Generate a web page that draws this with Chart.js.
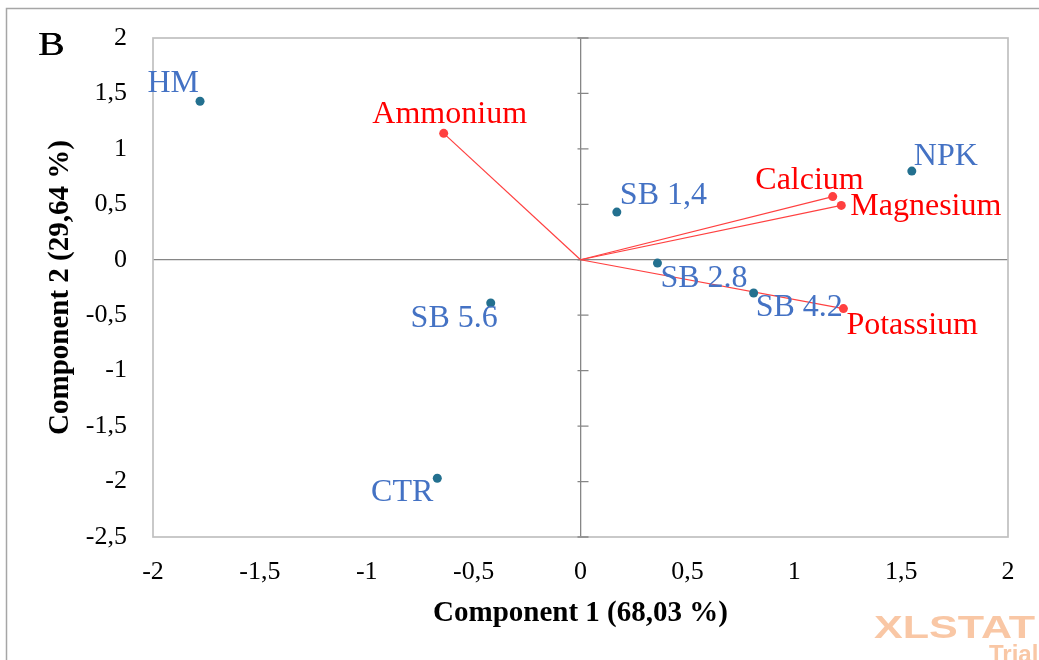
<!DOCTYPE html>
<html>
<head>
<meta charset="utf-8">
<script src="https://cdn.jsdelivr.net/npm/chart.js@4.4.0/dist/chart.umd.min.js"></script>
<style>
	html, body { margin: 0; padding: 0; background: #fff; }
	canvas { display: block; }
</style>
</head>
<body>
<canvas id="biplot" width="1039" height="660"></canvas>
<script>
// observations (component scores)
const obsNames = ['HM', 'NPK', 'SB 1,4', 'SB 2.8', 'SB 4.2', 'SB 5.6', 'CTR'];
const obsX = [-1.78, 1.55, 0.17, 0.36, 0.81, -0.42, -0.67];
const obsY = [1.43, 0.80, 0.43, -0.03, -0.30, -0.39, -1.97];

// variables (loadings)
const varNames = ['Ammonium', 'Calcium', 'Magnesium', 'Potassium'];
const varX = [-0.64, 1.18, 1.22, 1.23];
const varY = [1.14, 0.57, 0.49, -0.44];

// axis ticks
const xTicks = [-2, -1.5, -1, -0.5, 0, 0.5, 1, 1.5, 2];
const yTicks = [-2.5, -2, -1.5, -1, -0.5, 0, 0.5, 1, 1.5, 2];

// label offsets from the point: dx, dy (baseline), align
const obsLabelPos = [[-1, -9, 'right'], [2, -6, 'left'], [3, -8, 'left'], [3, 24, 'left'], [2, 23, 'left'], [7, 24, 'right'], [-4, 23, 'right']];
const varLabelPos = [[6, -10, 'center'], [31, -8, 'right'], [9, 10, 'left'], [3, 25, 'left']];

const SERIF = '"Liberation Serif", "Times New Roman", serif';

class Biplot {
	constructor (){
		const _ = this;
		_.init();
	}

	fmt(v){
		return String(v).replace('.', ',');
	}

	datasets(){
		let sets = [{
			label: 'Observations',
			data: obsX.map((x, i) => ({x: x, y: obsY[i]})),
			pointRadius: 4.5,
			pointBackgroundColor: '#23708f',
			pointBorderWidth: 0,
			showLine: false
		}];
		for (let i = 0; i < varNames.length; i++) {
			sets.push({
				label: varNames[i],
				data: [{x: 0, y: 0}, {x: varX[i], y: varY[i]}],
				showLine: true,
				borderColor: '#ff4040',
				borderWidth: 1.2,
				pointRadius: [0, 4.5],
				pointBackgroundColor: '#ff4040',
				pointBorderWidth: 0
			});
		}
		return sets;
	}

	// frame, zero-axis tick marks, point labels and the corner texts
	decorations(){
		const _ = this;
		return {
			id: 'decorations',
			beforeDraw(chart){
				const ctx = chart.ctx;
				ctx.save();
				ctx.fillStyle = '#fff';
				ctx.fillRect(0, 0, chart.width, chart.height);
				ctx.strokeStyle = '#a6a6a6';
				ctx.lineWidth = 1.5;
				ctx.strokeRect(6.5, 8.5, 1200, 800);
				ctx.restore();
			},
			beforeDatasetsDraw(chart){
				const ctx = chart.ctx;
				const a = chart.chartArea;
				const sx = chart.scales.x, sy = chart.scales.y;
				ctx.save();
				ctx.strokeStyle = '#c0c0c0';
				ctx.lineWidth = 1.7;
				ctx.strokeRect(a.left, a.top, a.right - a.left, a.bottom - a.top);

				let x0 = sx.getPixelForValue(0);
				ctx.strokeStyle = '#868686';
				ctx.lineWidth = 1.3;
				ctx.beginPath();
				yTicks.forEach(v => {
					let py = sy.getPixelForValue(v);
					ctx.moveTo(x0 - 3, py);
					ctx.lineTo(x0 + 8, py);
				});
				ctx.stroke();
				ctx.restore();
			},
			afterDatasetsDraw(chart){
				const ctx = chart.ctx;
				const sx = chart.scales.x, sy = chart.scales.y;
				ctx.save();
				ctx.font = '32px ' + SERIF;
				ctx.textBaseline = 'alphabetic';

				ctx.fillStyle = '#4472c4';
				obsNames.forEach((n, i) => {
					let p = obsLabelPos[i];
					ctx.textAlign = p[2];
					ctx.fillText(n, sx.getPixelForValue(obsX[i]) + p[0], sy.getPixelForValue(obsY[i]) + p[1]);
				});

				ctx.fillStyle = '#ff0000';
				varNames.forEach((n, i) => {
					let p = varLabelPos[i];
					ctx.textAlign = p[2];
					ctx.fillText(n, sx.getPixelForValue(varX[i]) + p[0], sy.getPixelForValue(varY[i]) + p[1]);
				});

				// panel letter
				ctx.fillStyle = '#000';
				ctx.textAlign = 'left';
				ctx.font = '33px ' + SERIF;
				ctx.save();
				ctx.translate(38, 55);
				ctx.scale(1.2, 1);
				ctx.fillText('B', 0, 0);
				ctx.fillText('B', 0.4, 0);
				ctx.restore();

				// trial watermark
				ctx.fillStyle = '#f9c7a5';
				ctx.font = 'bold 31px "Liberation Sans", Arial, sans-serif';
				ctx.save();
				ctx.translate(874, 638);
				ctx.scale(1.39, 1);
				ctx.fillText('XLSTAT', 0, 0);
				ctx.restore();
				ctx.font = 'bold 24px "Liberation Sans", Arial, sans-serif';
				ctx.fillText('Trial', 989, 662);
				ctx.restore();
			}
		};
	}

	axis(ticksList, titleText, fit, titlePad){
		const _ = this;
		return {
			type: 'linear',
			min: ticksList[0],
			max: ticksList[ticksList.length - 1],
			afterFit: fit,
			afterBuildTicks(scale){
				scale.ticks = ticksList.map(v => ({value: v}));
			},
			border: {display: false},
			grid: {
				drawTicks: false,
				lineWidth: 1.3,
				color: c => (c.tick && c.tick.value === 0) ? '#868686' : 'rgba(0,0,0,0)'
			},
			ticks: {
				color: '#000',
				font: {family: SERIF, size: 26},
				padding: titlePad.ticks,
				callback: v => _.fmt(v)
			},
			title: {
				display: true,
				text: titleText,
				color: '#000',
				font: {family: SERIF, size: 29, weight: 'bold'},
				padding: titlePad.title
			}
		};
	}

	start(){
		const _ = this;
		const ctx = document.getElementById('biplot');
		_.chart = new Chart(ctx, {
			type: 'scatter',
			data: {datasets: _.datasets()},
			options: {
				responsive: false,
				animation: false,
				devicePixelRatio: 1,
				layout: {padding: {top: 38, right: 31, left: 0, bottom: 0}},
				plugins: {legend: {display: false}, tooltip: {enabled: false}},
				scales: {
					x: _.axis(xTicks, 'Component 1 (68,03 %)', s => {
						s.height = 123;
						s.paddingLeft = 0;
						s.paddingRight = 0;
					}, {ticks: 20, title: {top: 0, bottom: 29}}),
					y: _.axis(yTicks, 'Component 2 (29,64 %)', s => {
						s.width = 153;
						s.paddingTop = 0;
						s.paddingBottom = 0;
					}, {ticks: 26, title: {top: 43, bottom: 0}})
				}
			},
			plugins: [_.decorations()]
		});
	}

	init(){
		const _ = this;
		_.start();
	}
}
new Biplot();
</script>
</body>
</html>
